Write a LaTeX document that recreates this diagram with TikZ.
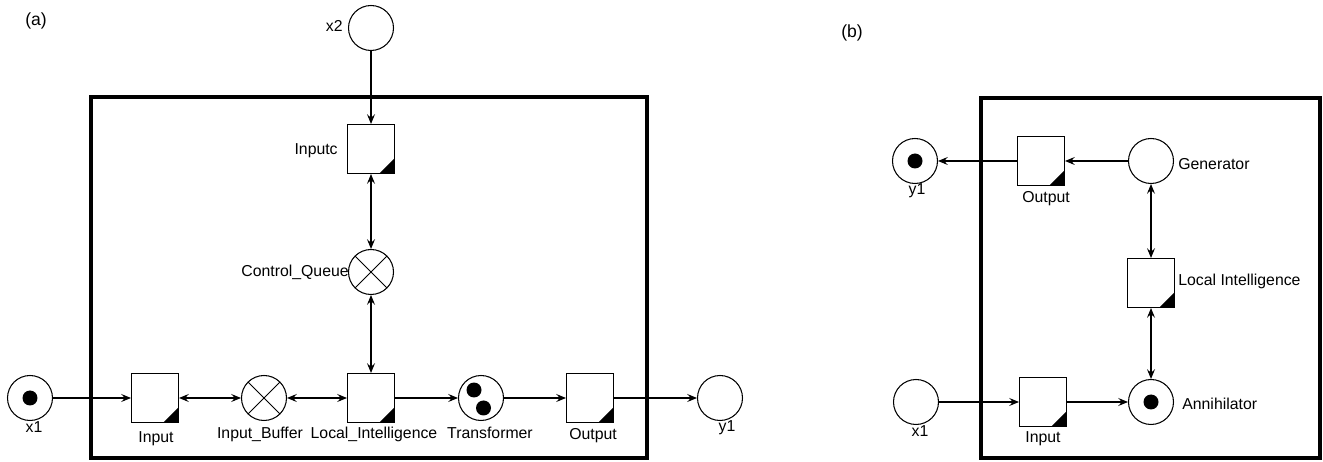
\documentclass[tikz,border=0pt]{standalone}
\usepackage{fontspec}
\setmainfont{Liberation Sans}
\usepackage{tikz}
\usetikzlibrary{arrows.meta}

\newcommand\lblfont{\fontsize{9}{10}\selectfont}
\newcommand\capfont{\fontsize{10}{12}\selectfont}

\tikzset{
  place/.style={circle, draw, line width=0.6pt, minimum size=0.9cm, inner sep=0pt},
  marked/.style={place, path picture={\fill (path picture bounding box.center) circle (0.15cm);}},
  twomarked/.style={place, path picture={
      \fill (path picture bounding box.center) ++(-0.14cm,0.16cm) circle (0.15cm);
      \fill (path picture bounding box.center) ++(0.05cm,-0.2cm) circle (0.15cm);}},
  buffer/.style={place, path picture={
      \draw[line width=0.5pt] (path picture bounding box.north west) -- (path picture bounding box.south east)
        (path picture bounding box.north east) -- (path picture bounding box.south west);}},
  trans/.style={rectangle, draw, line width=0.6pt, minimum width=0.94cm, minimum height=0.98cm, inner sep=0pt,
    path picture={\fill (path picture bounding box.south east) -- ++(-0.3cm,0) -- ++(0.3cm,0.3cm) -- cycle;}},
  lbl/.style={anchor=base, inner sep=0pt, font=\lblfont},
  frame/.style={line width=2.3pt},
  link/.style={line width=0.6pt, -{Stealth[length=5.5pt, width=4.5pt, inset=2pt]}},
  dlink/.style={link, {Stealth[length=5.5pt, width=4.5pt, inset=2pt]}-{Stealth[length=5.5pt, width=4.5pt, inset=2pt]}},
}

\begin{document}
\begin{tikzpicture}[x=0.02cm, y=-0.02cm]
  \useasboundingbox (0,0) rectangle (1323,462);

  % Frames
  \draw[frame] (91,97) rectangle (647,458);
  \draw[frame] (981,98) rectangle (1320,458);

  % Part (a): places and transitions
  \node[marked]    (x1a) at (30,398) {};
  \node[trans]     (ina) at (155,398) {};
  \node[buffer]    (bufa) at (264,398) {};
  \node[trans]     (lia) at (371,398) {};
  \node[twomarked] (tra) at (481,398) {};
  \node[trans]     (outa) at (590,398) {};
  \node[place]     (y1a) at (720,398) {};
  \node[place]     (x2) at (371,28) {};
  \node[trans]     (inc) at (371,149) {};
  \node[buffer]    (cq) at (371,272) {};

  % Part (b)
  \node[marked] (y1b) at (915,161) {};
  \node[trans]  (outb) at (1041,161) {};
  \node[place]  (gen) at (1151,161) {};
  \node[trans]  (lib) at (1151,283) {};
  \node[marked] (ann) at (1151,402) {};
  \node[trans]  (inb) at (1043,402) {};
  \node[place]  (x1b) at (916,402) {};

  % Arcs (a)
  \draw[link] (x1a) -- (ina);
  \draw[dlink] (ina) -- (bufa);
  \draw[dlink] (bufa) -- (lia);
  \draw[link] (lia) -- (tra);
  \draw[link] (tra) -- (outa);
  \draw[link] (outa) -- (y1a);
  \draw[link] (x2) -- (inc);
  \draw[dlink] (inc) -- (cq);
  \draw[dlink] (cq) -- (lia);

  % Arcs (b)
  \draw[link] (outb) -- (y1b);
  \draw[link] (gen) -- (outb);
  \draw[dlink] (gen) -- (lib);
  \draw[dlink] (lib) -- (ann);
  \draw[link] (x1b) -- (inb);
  \draw[link] (inb) -- (ann);

  % Labels (a)
  \node[lbl, font=\capfont] (capa) at (36,26) {(a)};
  \node[lbl, anchor=base east] (lx2) at (343,32) {x2};
  \node[lbl, anchor=base east] (linc) at (338,155) {Inputc};
  \node[lbl, anchor=base east] (lcq) at (349,277) {Control\_Queue};
  \node[lbl] (lx1a) at (34,433) {x1};
  \node[lbl] (lina) at (156,443) {Input};
  \node[lbl] (lbufa) at (260,439) {Input\_Buffer};
  \node[lbl] (llia) at (374,439) {Local\_Intelligence};
  \node[lbl] (ltra) at (490,439) {Transformer};
  \node[lbl] (louta) at (593,440) {Output};
  \node[lbl] (ly1a) at (727,432) {y1};

  % Labels (b)
  \node[lbl, font=\capfont] (capb) at (852,38) {(b)};
  \node[lbl] (ly1b) at (917,195) {y1};
  \node[lbl] (loutb) at (1046,203) {Output};
  \node[lbl, anchor=base west] (lgen) at (1178,170) {Generator};
  \node[lbl, anchor=base west] (llib) at (1178,286) {Local Intelligence};
  \node[lbl, anchor=base west] (lann) at (1182,410) {Annihilator};
  \node[lbl] (linb) at (1043,443) {Input};
  \node[lbl] (lx1b) at (920,437) {x1};
\end{tikzpicture}
\end{document}
